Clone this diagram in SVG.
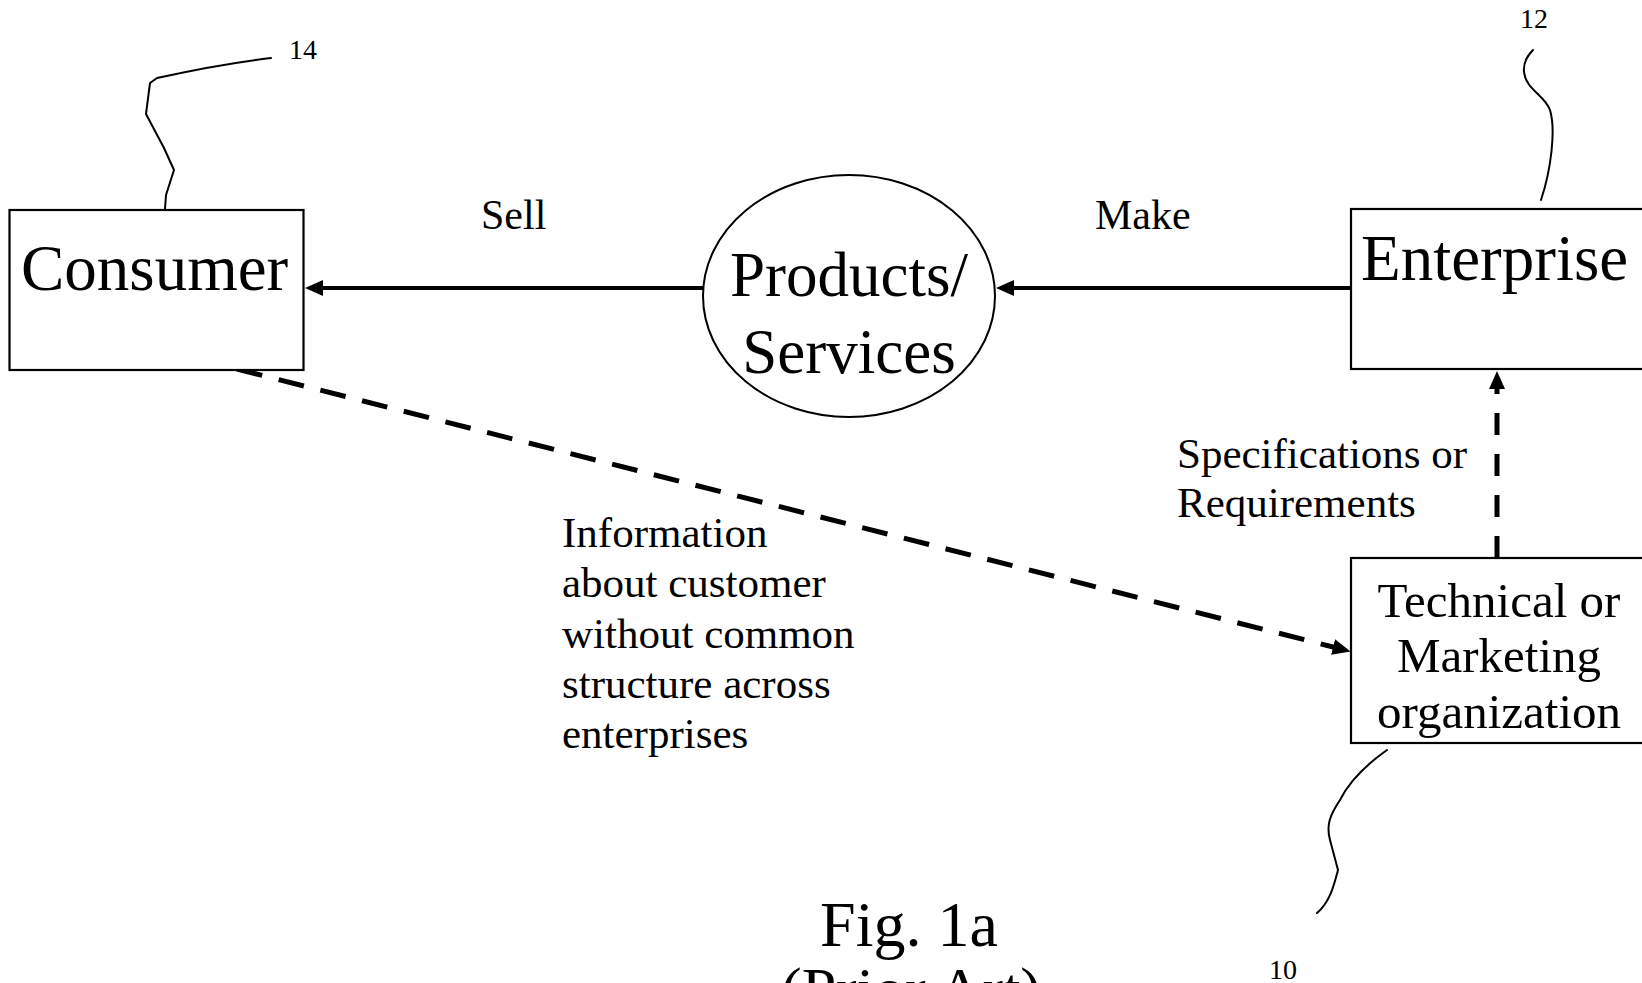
<svg xmlns="http://www.w3.org/2000/svg" width="1642" height="983" viewBox="0 0 1642 983">
<style>
text{font-family:"Liberation Serif","Times New Roman",serif;fill:#000}
.box{fill:#fff;stroke:#000;stroke-width:2.2}
.solid{fill:none;stroke:#000;stroke-width:4}
.dash{fill:none;stroke:#000;stroke-width:5}
.lead{fill:none;stroke:#000;stroke-width:2;stroke-linejoin:round;stroke-linecap:round}
</style>
<defs>
<marker id="ah" markerWidth="18" markerHeight="16" refX="4" refY="8" orient="auto" markerUnits="userSpaceOnUse" viewBox="0 0 18 16">
<path d="M0,0 L18,8 L0,16 Z" fill="#000"/>
</marker>
</defs>
<rect width="1642" height="983" fill="#fff"/>

<g id="connectors">
<path class="solid" d="M704,288 L319,288" marker-end="url(#ah)"/>
<path class="solid" d="M1351,288 L1010,288" marker-end="url(#ah)"/>
<path class="dash" d="M237,369 L1337,648" stroke-dasharray="26 17" marker-end="url(#ah)"/>
<path class="dash" d="M1497,558 L1497,385" stroke-dasharray="22 19" marker-end="url(#ah)"/>
<text x="481" y="229" font-size="42">Sell</text>
<text x="1095" y="229" font-size="42">Make</text>
<text x="1177" y="468" font-size="43">Specifications or</text>
<text x="1177" y="517" font-size="43">Requirements</text>
<text font-size="43"><tspan x="562" y="547">Information</tspan><tspan x="562" y="597">about customer</tspan><tspan x="562" y="648">without common</tspan><tspan x="562" y="698">structure across</tspan><tspan x="562" y="748">enterprises</tspan></text>
</g>

<g id="consumer">
<rect class="box" x="9.5" y="210" width="294" height="160"/>
<text x="21" y="290" font-size="65">Consumer</text>
<path class="lead" d="M165,209 L166,195 L174,170 L164,148 L146,114 L150,83 L157,78 Q220,64 271,58"/>
<text x="289" y="59" font-size="28">14</text>
</g>

<g id="products">
<ellipse cx="849" cy="296" rx="146" ry="121" fill="#fff" stroke="#000" stroke-width="2"/>
<text x="849" y="296" font-size="63" text-anchor="middle">Products/</text>
<text x="849" y="373" font-size="63" text-anchor="middle">Services</text>
</g>

<g id="enterprise">
<rect class="box" x="1351" y="209" width="300" height="160"/>
<text x="1361" y="280" font-size="65">Enterprise</text>
<path class="lead" d="M1541,200 C1551,170 1556,130 1550,110 C1545,95 1526,90 1524,72 C1523,62 1528,55 1533,50"/>
<text x="1520" y="28" font-size="28">12</text>
</g>

<g id="technical">
<rect class="box" x="1351" y="558" width="300" height="185"/>
<text x="1499" y="617" font-size="49" text-anchor="middle">Technical or</text>
<text x="1499" y="672" font-size="49" text-anchor="middle">Marketing</text>
<text x="1499" y="728" font-size="49" text-anchor="middle">organization</text>
<path class="lead" d="M1387,750 C1370,762 1350,780 1340,800 C1330,815 1326,825 1330,840 L1338,870 C1334,885 1330,902 1317,913"/>
<text x="1269" y="979" font-size="28">10</text>
</g>

<g id="caption">
<text x="909" y="946" font-size="64" text-anchor="middle">Fig. 1a</text>
<text x="911" y="1010" font-size="62" text-anchor="middle">(Prior Art)</text>
</g>
</svg>
